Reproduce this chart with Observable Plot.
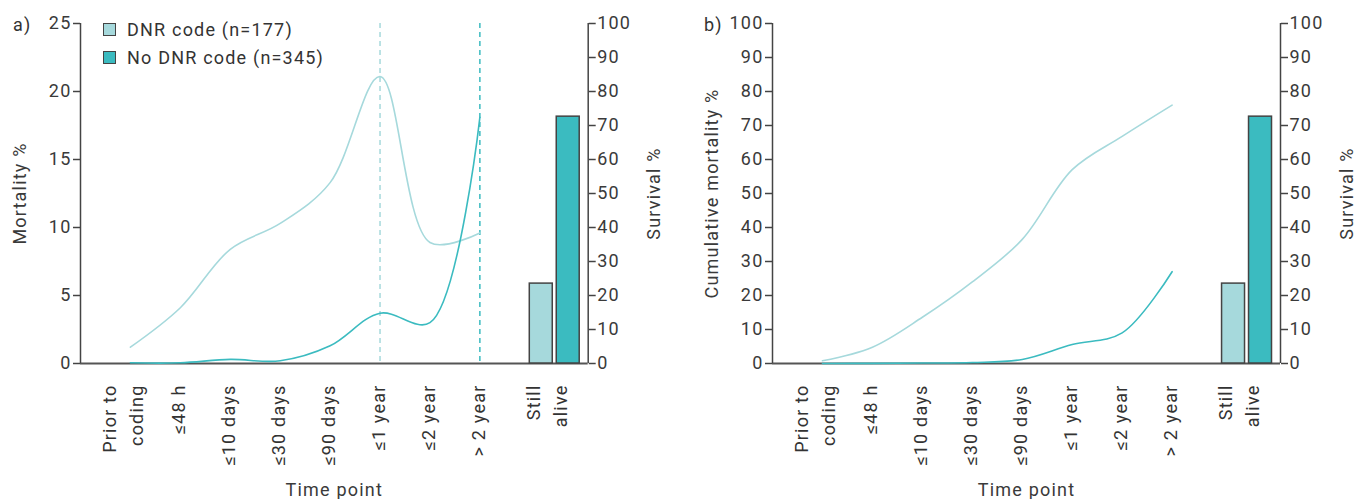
<!DOCTYPE html>
<html><head><meta charset="utf-8">
<script src="https://cdn.jsdelivr.net/npm/d3@7"></script>
<script src="https://cdn.jsdelivr.net/npm/@observablehq/plot@0.6"></script>
<style>
body{margin:0;background:#fff;font-family:Roboto,"DejaVu Sans",sans-serif;}
#wrap{position:relative;width:1365px;height:499px;display:flex;}
.panel{position:relative;}
.tag{position:absolute;font-size:18px;color:#333;line-height:1;letter-spacing:1.2px;}
.legend{position:absolute;left:103px;top:15px;font-size:18px;color:#333;letter-spacing:1.2px;}
.legend .row{display:flex;align-items:center;height:28px;}
.legend .sw{width:11px;height:11px;border:1px solid #444;margin-right:11px;}
</style></head><body>
<div id="wrap"></div>
<script>
// ---- data ----
const categories = ["Prior to\ncoding", "≤48 h", "≤10 days", "≤30 days", "≤90 days", "≤1 year", "≤2 year", "> 2 year"];
const aliveLabel = "Still\nalive";
const groups = ["DNR code (n=177)", "No DNR code (n=345)"];
const mortalityDNR   = [1.2, 4.1, 8.4, 10.3, 13.3, 21.1, 8.9, 9.6];
const mortalityNoDNR = [0.05, 0.05, 0.3, 0.2, 1.3, 3.7, 3.0, 18.1];
const cumDNR   = [0.8, 4.8, 13.6, 24.0, 36.5, 57.0, 66.8, 76.0];
const cumNoDNR = [0.0, 0.05, 0.15, 0.3, 1.2, 5.6, 9.0, 27.0];
const survival = [23.5, 72.6];
const mortalityTicks = [0, 5, 10, 15, 20, 25];
const cumTicks = [0, 10, 20, 30, 40, 50, 60, 70, 80, 90, 100];
const survivalTicks = [0, 10, 20, 30, 40, 50, 60, 70, 80, 90, 100];
const dashedAt = ["≤1 year", "> 2 year"];

// ---- style ----
const light = "#a6d9dc", dark = "#3bbbc0", ink = "#444";
const xmax = 10.17;

function panel({width, marginLeft, marginRight, ymax, yTicks, yLabel, series, dashed}) {
  const f = ymax / 100;
  const lineData = series.flatMap((vals, k) => vals.map((v, i) => ({i: i + 1, v, g: k})));
  const bars = survival.map((s, k) => ({x1: 9 + k * 0.54, x2: 9 + k * 0.54 + 0.46, y: s * f, g: k}));
  const labels = categories.map((c, i) => ({x: i + 1, t: c})).concat([{x: 9.5, t: aliveLabel}]);
  const single = labels.filter(d => !d.t.includes("\n"));
  const multi = labels.filter(d => d.t.includes("\n"));
  const labelOpts = {x: "x", text: "t", frameAnchor: "bottom", rotate: -90, textAnchor: "end",
      lineAnchor: "middle", lineHeight: 1.5, dy: 21, fill: "#333"};
  const marks = [
    Plot.ruleY([0], {stroke: "#555", strokeWidth: 2}),
    Plot.ruleX([0, xmax], {stroke: ink, strokeWidth: 1.5}),
    Plot.axisY({anchor: "left", ticks: yTicks, tickSize: 7, tickPadding: 2, stroke: ink, strokeWidth: 1.5,
      label: yLabel, labelAnchor: "center", labelArrow: "none", labelOffset: 67}),
    Plot.axisY({anchor: "right", ticks: survivalTicks.map(v => v * f), tickFormat: d => Math.round(d / f),
      tickSize: 7, tickPadding: 2, stroke: ink, strokeWidth: 1.5,
      label: "Survival %", labelAnchor: "center", labelArrow: "none", labelOffset: 72}),
    Plot.axisX({ticks: [], label: "Time point", labelAnchor: "center", labelArrow: "none", labelOffset: 132}),
    Plot.text(single, {...labelOpts, dx: -4}),
    Plot.text(multi, {...labelOpts, dx: -10}),
  ];
  if (dashed) {
    marks.push(Plot.ruleX(dashedAt.map((c, k) => ({x: categories.indexOf(c) + 1, k})),
      {x: "x", stroke: d => d.k === 0 ? light : dark, strokeDasharray: "5,4", strokeWidth: 1.5}));
  }
  marks.push(
    Plot.line(lineData, {x: "i", y: "v", z: "g", stroke: d => d.g === 0 ? light : dark, strokeWidth: 1.6, curve: "catmull-rom"}),
    Plot.rectY(bars, {x1: "x1", x2: "x2", y: "y", fill: d => d.g === 0 ? light : dark, stroke: ink, strokeWidth: 1.5})
  );
  return Plot.plot({
    width, height: 499, marginTop: 23, marginBottom: 136, marginLeft, marginRight,
    x: {domain: [0, xmax]},
    y: {domain: [0, ymax]},
    style: {fontFamily: "Roboto, 'DejaVu Sans', sans-serif", fontSize: "18px", letterSpacing: "1.2px",
      color: "#3a3a3a", background: "white", overflow: "visible"},
    marks
  });
}

const wrap = document.getElementById("wrap");
const pa = document.createElement("div"); pa.className = "panel";
const pb = document.createElement("div"); pb.className = "panel";
wrap.append(pa, pb);

pa.append(panel({width: 690, marginLeft: 80, marginRight: 102.3, ymax: 25, yTicks: mortalityTicks,
  yLabel: "Mortality %", series: [mortalityDNR, mortalityNoDNR], dashed: true}));
pb.append(panel({width: 675, marginLeft: 82, marginRight: 85, ymax: 100, yTicks: cumTicks,
  yLabel: "Cumulative mortality %", series: [cumDNR, cumNoDNR], dashed: false}));

const ta = document.createElement("div"); ta.className = "tag"; ta.textContent = "a)";
ta.style.left = "13px"; ta.style.top = "16px"; pa.append(ta);
const tb = document.createElement("div"); tb.className = "tag"; tb.textContent = "b)";
tb.style.left = "14px"; tb.style.top = "16px"; pb.append(tb);

const lg = document.createElement("div"); lg.className = "legend";
groups.forEach((g, k) => {
  const r = document.createElement("div"); r.className = "row";
  const sw = document.createElement("span"); sw.className = "sw"; sw.style.background = k === 0 ? light : dark;
  const t = document.createElement("span"); t.textContent = g;
  r.append(sw, t); lg.append(r);
});
pa.append(lg);
</script>
</body></html>
